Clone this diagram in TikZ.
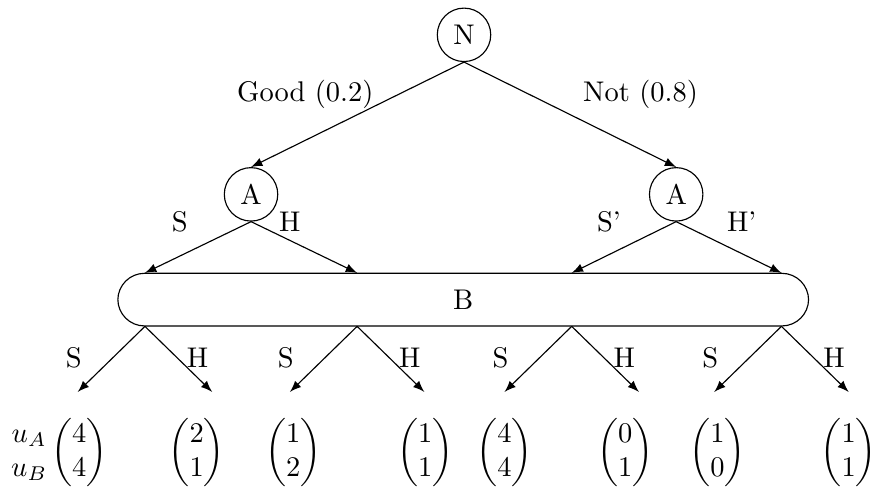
\documentclass[tikz,border=0pt]{standalone}
\usepackage{amsmath}
\usetikzlibrary{calc, positioning}
\begin{document}
\begin{tikzpicture}[>=latex,
    chance/.style={draw, circle, minimum size=0.66cm, inner sep=0pt},
    info/.style={draw, rounded corners=0.33cm, minimum width=8.53cm, minimum height=0.65cm}]
    \useasboundingbox (0,0) rectangle (10.83,6.05);
    % Knoten
    \node[chance] (N) at (5.73,5.62) {N};
    \node[chance] (A1) at (3.10,3.65) {A};
    \node[chance] (A2) at (8.35,3.65) {A};
    \node[info] (B) at (5.72,2.35) {B};

    % Zug der Natur
    \draw[->] (N.south) -- (A1.north);
    \draw[->] (N.south) -- (A2.north);
    \node (good) at (3.77,4.88) {Good (0.2)};
    \node (not) at (7.91,4.88) {Not (0.8)};

    % Zuege von A
    \foreach \i/\x in {1/1.79, 2/4.41, 3/7.06, 4/9.65} {
        \coordinate (t\i) at (\x,2.68);
        \coordinate (s\i) at (\x,2.02);
    }
    \draw[->] (A1.south) -- (t1);
    \draw[->] (A1.south) -- (t2);
    \draw[->] (A2.south) -- (t3);
    \draw[->] (A2.south) -- (t4);
    \node (la1) at (2.22,3.31) {S};
    \node (la2) at (3.58,3.31) {H};
    \node (la3) at (7.52,3.31) {S'};
    \node (la4) at (9.16,3.31) {H'};

    % Zuege von B
    \foreach \i in {1,...,4} {
        \coordinate (e\i l) at ($(s\i)+(-0.83,-0.81)$);
        \coordinate (e\i r) at ($(s\i)+(0.83,-0.81)$);
        \draw[->] (s\i) -- (e\i l);
        \draw[->] (s\i) -- (e\i r);
        \node (lb\i l) at ($(s\i)+(-0.88,-0.39)$) {S};
        \node (lb\i r) at ($(s\i)+(0.65,-0.39)$) {H};
    }

    % Auszahlungen
    \node (p1) at (0.98,0.46) {$\begin{pmatrix}4\\4\end{pmatrix}$};
    \node (p2) at (2.43,0.46) {$\begin{pmatrix}2\\1\end{pmatrix}$};
    \node (p3) at (3.62,0.46) {$\begin{pmatrix}1\\2\end{pmatrix}$};
    \node (p4) at (5.25,0.46) {$\begin{pmatrix}1\\1\end{pmatrix}$};
    \node (p5) at (6.23,0.46) {$\begin{pmatrix}4\\4\end{pmatrix}$};
    \node (p6) at (7.72,0.46) {$\begin{pmatrix}0\\1\end{pmatrix}$};
    \node (p7) at (8.86,0.46) {$\begin{pmatrix}1\\0\end{pmatrix}$};
    \node (p8) at (10.48,0.46) {$\begin{pmatrix}1\\1\end{pmatrix}$};
    \node (u) at (0.36,0.46) {$\begin{matrix}u_A\\u_B\end{matrix}$};
\end{tikzpicture}
\end{document}
